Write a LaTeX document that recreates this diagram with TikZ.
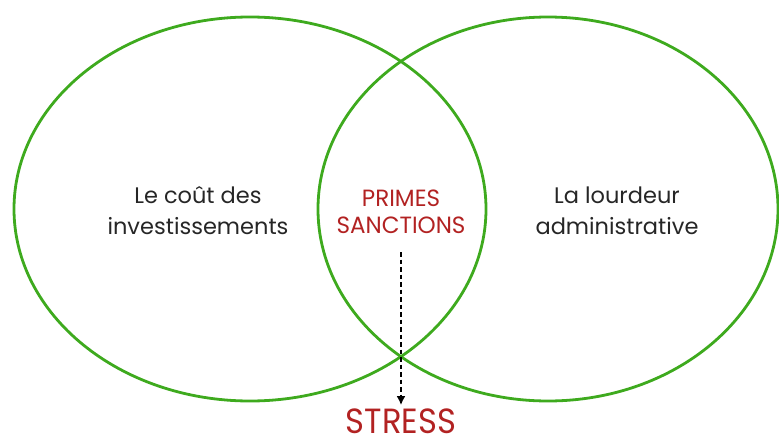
\documentclass[tikz,border=0pt]{standalone}
\usepackage{fontspec}
\setmainfont{Poppins}
\usepackage{tikz}
\usetikzlibrary{shapes,arrows,arrows.meta,calc}

\definecolor{vert}{RGB}{62,170,30}
\definecolor{rouge}{RGB}{178,34,34}

\begin{document}
\begin{tikzpicture}[x=1pt,y=-1pt,
  cercle/.style={draw=vert,line width=2.8pt},
  texte/.style={align=center,font=\fontsize{22.5}{31}\selectfont,text=black!85},
  cause/.style={align=center,font=\fontsize{23.5}{27}\selectfont,text=rouge,xscale=0.98}]
\useasboundingbox (0,0) rectangle (779,439);
\draw[cercle](250,209) ellipse (236 and 192);
\draw[cercle](548,209) ellipse (230 and 192);
\node[texte] (cout) at (198,211) {Le coût des\\investissements};
\node[texte] (lourdeur) at (617,211) {La lourdeur\\administrative};
\node[cause] (primes) at (401,212) {PRIMES\\SANCTIONS};
\node[font=\fontsize{35}{35}\selectfont,text=rouge,xscale=0.92,anchor=base,inner sep=0pt] (stress) at (401,433) {STRESS};
\draw[dash pattern=on 4.5pt off 3pt,line width=2pt,-{Latex[length=9pt,width=9pt]},shorten >=3pt](401,252) -- (stress.north);
\end{tikzpicture}
\end{document}
